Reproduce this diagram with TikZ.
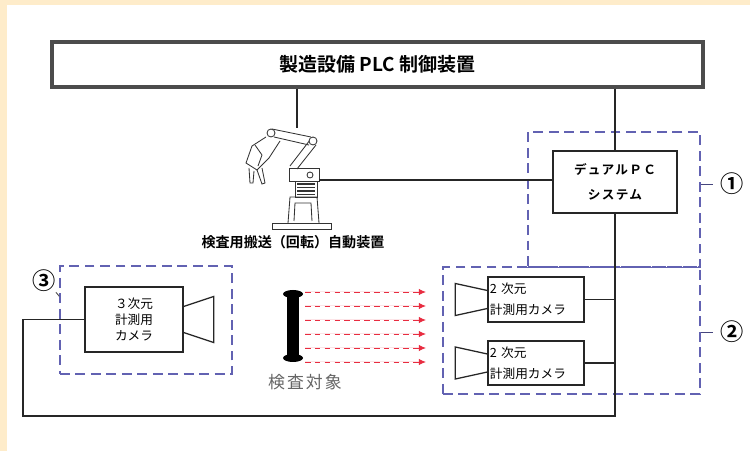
\documentclass[tikz,border=0pt]{standalone}
\usepackage{fontspec}
\usepackage{tikz}
\usetikzlibrary{arrows.meta,positioning,calc}
\newfontfamily\jpfont[BoldFont={Noto Sans CJK JP Bold}]{Noto Sans CJK JP}
\definecolor{bgpeach}{RGB}{254,236,202}
\definecolor{groupblue}{RGB}{98,98,178}
\definecolor{rayred}{RGB}{232,44,64}

\begin{document}
\begin{tikzpicture}[
    x=0.025cm, y=-0.025cm,
    >=Latex,
    box/.style={
        draw=black!85,
        line width=0.9pt,
        fill=white,
        inner sep=1pt,
        align=center,
        font=\jpfont\fontsize{9}{11.5}\selectfont
    },
    group/.style={
        draw=groupblue,
        line width=0.9pt,
        dash pattern=on 7pt off 4pt
    },
    wire/.style={draw=black!85, line width=0.9pt},
    scanray/.style={
        -{Latex[length=5pt,width=4.5pt]},
        draw=rayred, fill=rayred,
        line width=0.7pt,
        dash pattern=on 4pt off 3pt
    },
    tag/.style={font=\jpfont\bfseries\fontsize{16.5}{16.5}\selectfont, inner sep=0pt}
]

% page background
\fill[bgpeach] (0,0) rectangle (750,451);
\fill[white] (7,5) rectangle (750,451);

% dashed groups
\node[group, minimum width=4.3cm, minimum height=3.375cm] (grpone) at (614,199.5) {};
\node[group, minimum width=6.425cm, minimum height=3.175cm] (grptwo) at (571.5,330.5) {};
\node[group, minimum width=4.3cm, minimum height=2.7cm] (grpthree) at (146,320) {};
\draw[groupblue, line width=0.9pt] (grpone.south west) -- (grpone.south east);

% controller and PCs
\node[box, draw=black!70, line width=2.4pt, minimum width=16.275cm, minimum height=1.125cm,
    font=\jpfont\bfseries\fontsize{13.5}{14}\selectfont] (plc) at (377.5,64.5)
{製造設備 PLC 制御装置};

\node[box, minimum width=3.1cm, minimum height=1.55cm,
    font=\jpfont\bfseries\fontsize{9}{18}\selectfont\addfontfeatures{LetterSpace=10}] (pc) at (615,182)
{デュアルＰＣ\\システム};

% cameras
\node[box, minimum width=2.4cm, minimum height=1.125cm, text width=2.3cm, align=left,
    font=\jpfont\fontsize{9}{15}\selectfont] (cam2da) at (536,299.5)
{2 次元\\計測用カメラ};
\node[box, minimum width=2.4cm, minimum height=1.1cm, text width=2.3cm, align=left,
    font=\jpfont\fontsize{9}{15}\selectfont] (cam2db) at (536,363)
{2 次元\\計測用カメラ};
\node[box, minimum width=2.45cm, minimum height=1.625cm] (cam3d) at (134,319.5)
{３次元\\計測用\\カメラ};

\foreach \cam in {cam2da,cam2db}
    \draw[wire] (\cam.west) ++(0,-9) -- ++(-32,-7) -- ++(0,32) -- ++(32,-7);
\draw[wire] (cam3d.east) ++(0,-13) -- ++(30,-10) -- ++(0,46) -- ++(-30,-10);

% transfer robot
\begin{scope}[line width=0.6pt, black!80]
    \draw (272,223) rectangle (331,229);
    \draw (288,223) -- (290,197) -- (317,197) -- (319,223);
    \draw (294,221) -- (295,203) -- (311,203) -- (312,221);
    \draw (295,181) rectangle (317,197);
    \foreach \r in {184,187.5,...,195}
        \draw[line width=1.2pt] (297,\r) -- (315,\r);
    \draw (289,168) -- (319,168) -- (319,181) -- (289,181) -- cycle;
    \draw (310,175) circle (3);
    \draw (290,166) -- (310,140);
    \draw (297,169) -- (316,145);
    \draw[fill=white] (313,141) circle (4);
    \draw (272,129) -- (311,137);
    \draw (274,137) -- (309,145);
    \draw[fill=white] (271,133) circle (4);
    \draw (266,137) -- (252,146) -- (246,163) -- (257,170) -- (269,158) -- (280,141);
    \draw (255,145) -- (262,155) -- (258,166);
    \draw (249,168) -- (250,183) -- (253,183) -- (254,171);
    \draw (257,170) -- (262,184) -- (265,183) -- (262,168);
    \coordinate (robottop) at (297,128);
    \coordinate (robotside) at (319,180);
\end{scope}
\node[font=\jpfont\bfseries\fontsize{10}{10}\selectfont] (robotlabel) at (293,242)
{検査用搬送（回転）自動装置};

% inspection target and scan rays
\fill (287,294) rectangle (299,358);
\fill (293,294) ellipse (10 and 4);
\fill (293,358) ellipse (10 and 4);
\node[font=\jpfont\fontsize{12}{12}\selectfont\addfontfeatures{LetterSpace=12}, text=black!60] (target) at (305,382)
{検査対象};
\foreach \ry in {292,306,320,334,348,362}
    \draw[scanray] (305,\ry) -- (426,\ry);

% wiring
\coordinate (busleft) at (23,416);
\draw[wire] (plc.south -| robottop) -- (robottop);
\draw[wire] (plc.south -| pc.north) -- (pc.north);
\draw[wire] (robotside) -- (robotside -| pc.west);
\draw[wire] (pc.south) -- (pc.south |- busleft) -- (busleft) |- (cam3d.west);
\draw[wire] (cam2da.east) -- (cam2da.east -| pc.south);
\draw[wire] (cam2db.east) -- (cam2db.east -| pc.south);

% group numbers
\node[tag] (tagone) at (732,184) {①};
\node[tag] (tagtwo) at (732,332) {②};
\node[tag] (tagthree) at (44,281) {③};
\draw[groupblue!70!black, line width=0.5pt] (grpone.east |- tagone) -- ++(12,0);
\draw[groupblue!70!black, line width=0.5pt] (grptwo.east |- tagtwo) -- ++(12,0);
\draw[black!70, line width=0.6pt] (tagthree.south east) -- ($(grpthree.north west)+(0,31)$);

\end{tikzpicture}
\end{document}
